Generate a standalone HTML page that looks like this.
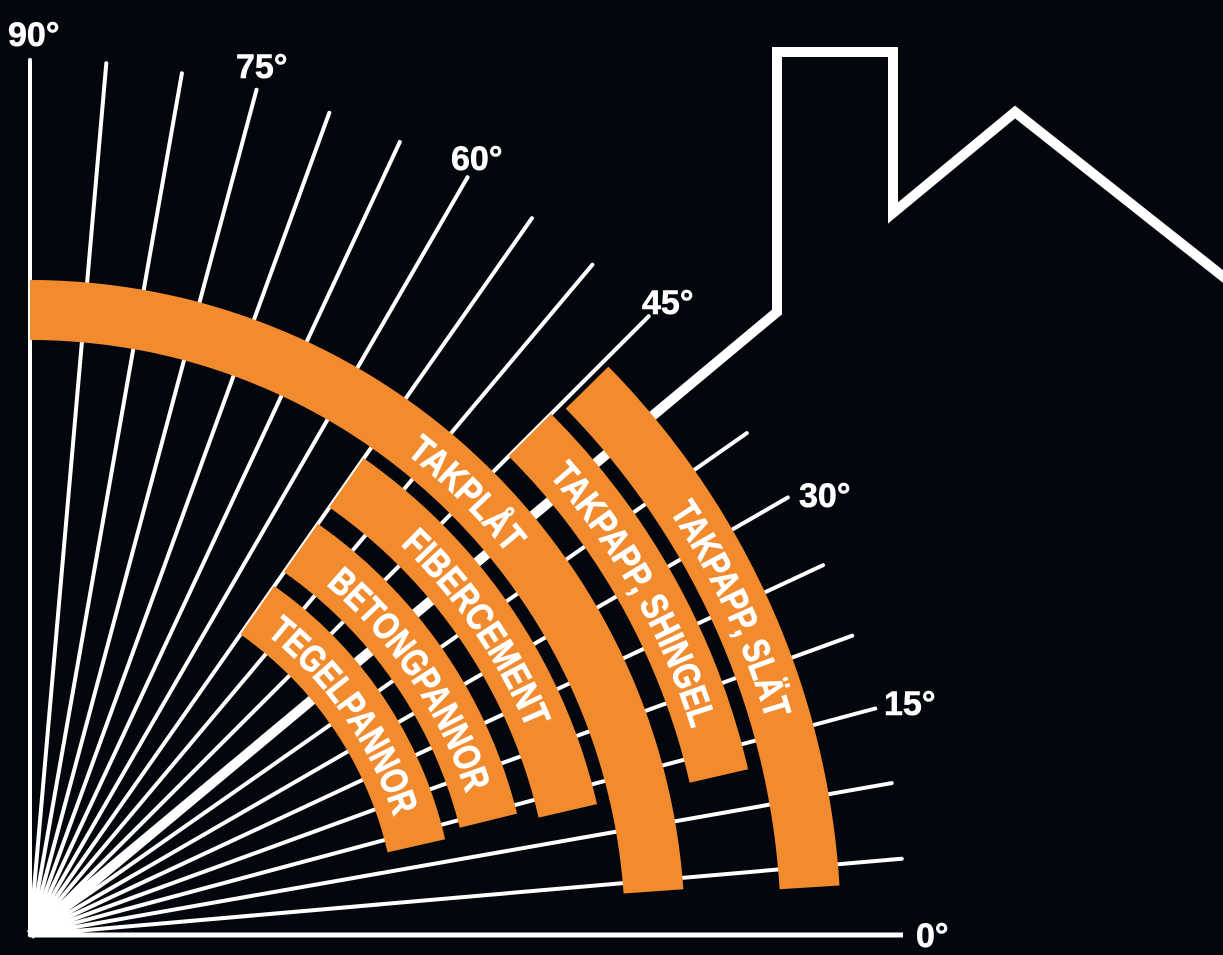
<!DOCTYPE html>
<html><head><meta charset="utf-8"><style>
html,body{margin:0;padding:0;background:#03060d;}
svg{display:block}
text{font-family:"Liberation Sans",sans-serif;font-weight:bold;fill:#fff;}
</style></head><body>
<svg id="s" width="1223" height="955" viewBox="0 0 1223 955">
<rect width="1223" height="955" fill="#03060d"/>
<g id="lines" stroke="#fff" stroke-width="4" stroke-linecap="round"></g>
<polyline points="30,935 777,312 777,52 893,52 893,213 1015,112 1230,282" fill="none" stroke="#fff" stroke-width="10" stroke-linejoin="miter"/>
<line x1="30" y1="935" x2="903" y2="935" stroke="#fff" stroke-width="5"/>
<g id="bands" fill="#f28a2e"></g>
<defs id="defs"></defs>
<g font-size="38" stroke="#fff" stroke-width="0.8">
<text><textPath href="#t0" lengthAdjust="spacingAndGlyphs" id="tp0">TAKPLÅT</textPath></text>
<text><textPath href="#t1" lengthAdjust="spacingAndGlyphs" id="tp1">TAKPAPP, SLÄT</textPath></text>
<text><textPath href="#t2" lengthAdjust="spacingAndGlyphs" id="tp2">TAKPAPP, SHINGEL</textPath></text>
<text><textPath href="#t3" lengthAdjust="spacingAndGlyphs" id="tp3">FIBERCEMENT</textPath></text>
<text><textPath href="#t4" lengthAdjust="spacingAndGlyphs" id="tp4">BETONGPANNOR</textPath></text>
<text><textPath href="#t5" lengthAdjust="spacingAndGlyphs" id="tp5">TEGELPANNOR</textPath></text>
</g>
<g font-size="34" stroke="#fff" stroke-width="0.6">
<text x="8" y="46">90°</text>
<text x="236" y="78">75°</text>
<text x="451" y="170">60°</text>
<text x="642" y="314">45°</text>
<text x="799" y="507">30°</text>
<text x="884" y="715">15°</text>
<text x="916" y="947">0°</text>
</g>
</svg>
<script>
var NS="http://www.w3.org/2000/svg",cx=30,cy=935,R=Math.PI/180;
function P(r,a){return [(cx+r*Math.cos(a*R)).toFixed(1),(cy-r*Math.sin(a*R)).toFixed(1)];}
var L=document.getElementById('lines');
for(var a=0;a<=90;a+=5){if(a==40||a==0)continue;var p=P(875,a);var l=document.createElementNS(NS,'line');
l.setAttribute('x1',cx);l.setAttribute('y1',cy);l.setAttribute('x2',p[0]);l.setAttribute('y2',p[1]);L.appendChild(l);}
var bands=[[595,655,90,4],[751,811,44.5,3.5],[677,737,45,13],[522,582,55,13],[443,502,55,14],[367,426,55,13]];
var labels=[[52,38.6],[33.5,16.3],[41.5,17.3],[46.5,22.5],[49.8,18],[51.8,18]];
var B=document.getElementById('bands'),D=document.getElementById('defs');
bands.forEach(function(b,i){var o1=P(b[1],b[2]),o2=P(b[1],b[3]),i2=P(b[0],b[3]),i1=P(b[0],b[2]);
var p=document.createElementNS(NS,'path');
p.setAttribute('d','M'+o1+' A'+b[1]+' '+b[1]+' 0 0 1 '+o2+' L'+i2+' A'+b[0]+' '+b[0]+' 0 0 0 '+i1+'Z');B.appendChild(p);
var rm=(b[0]+b[1])/2-14,lb=labels[i],s=P(rm,lb[0]),e=P(rm,lb[1]);
var t=document.createElementNS(NS,'path');t.setAttribute('id','t'+i);
t.setAttribute('d','M'+s+' A'+rm+' '+rm+' 0 0 1 '+e);D.appendChild(t);
document.getElementById('tp'+i).setAttribute('textLength',(rm*(lb[0]-lb[1])*R).toFixed(1));});
</script>
</body></html>
